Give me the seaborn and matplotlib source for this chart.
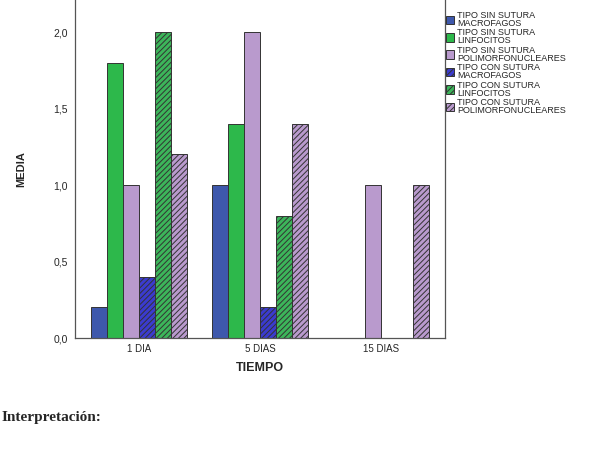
import matplotlib
matplotlib.use('agg')
import matplotlib.pyplot as plt
import seaborn as sns
import numpy as np
import pandas as pd

TIEMPO = ['1 DIA', '5 DIAS', '15 DIAS']
GRUPOS = ['TIPO SIN SUTURA\nMACROFAGOS',
          'TIPO SIN SUTURA\nLINFOCITOS',
          'TIPO SIN SUTURA\nPOLIMORFONUCLEARES',
          'TIPO CON SUTURA\nMACROFAGOS',
          'TIPO CON SUTURA\nLINFOCITOS',
          'TIPO CON SUTURA\nPOLIMORFONUCLEARES']

sin_macro = [0.2, 1.0, np.nan]
sin_linf = [1.8, 1.4, np.nan]
sin_poli = [1.0, 2.0, 1.0]
con_macro = [0.4, 0.2, np.nan]
con_linf = [2.0, 0.8, np.nan]
con_poli = [1.2, 1.4, 1.0]

Y_TICKS = [0, 0.5, 1.0, 1.5, 2.0]
Y_LABELS = ['0,0', '0,5', '1,0', '1,5', '2,0']

COLORS = ['#3E58AC', '#2DB84B', '#B99ACD', '#3B3BCF', '#3CB55A', '#B99ACD']
HATCHED = [False, False, False, True, True, True]


rows = []
for g, vals in zip(GRUPOS, [sin_macro, sin_linf, sin_poli, con_macro, con_linf, con_poli]):
    for t, v in zip(TIEMPO, vals):
        rows.append({'TIEMPO': t, 'GRUPO': g, 'MEDIA': v})
df = pd.DataFrame(rows)

sns.set_style('white')
plt.rcParams['font.family'] = ['Liberation Sans', 'DejaVu Sans']
plt.rcParams['hatch.linewidth'] = 0.7

fig = plt.figure(figsize=[5.96, 4.5], dpi=100)
ax = fig.add_axes([75 / 596, 1 - 338 / 450, 370 / 596, 338 / 450])

sns.barplot(data=df, x='TIEMPO', y='MEDIA', hue='GRUPO', order=TIEMPO,
            hue_order=GRUPOS, palette=COLORS, saturation=1, width=0.8,
            edgecolor='#333333', linewidth=0.7, errorbar=None, legend=False, ax=ax)

for cont, h in zip(ax.containers, HATCHED):
    for p in cont:
        if h:
            p.set_hatch('//////')

ax.set_xlim(-0.53, 2.53)
ax.set_ylim(0, 2.21)
ax.set_yticks(Y_TICKS)
ax.set_yticklabels(Y_LABELS, fontsize=7.5)
ax.set_xticks(range(len(TIEMPO)))
ax.set_xticklabels(TIEMPO, fontsize=7)
ax.tick_params(axis='y', direction='out', length=3, width=0.6, color='#444444', pad=2)
ax.tick_params(axis='x', direction='in', length=6, width=0.8, color='#333333', pad=4)

for s in ['left', 'bottom', 'right']:
    ax.spines[s].set_color('#555555')
    ax.spines[s].set_linewidth(0.9)
ax.spines['top'].set_visible(False)

ax.set_xlabel('TIEMPO', fontsize=9, fontweight='bold', labelpad=6)
ax.set_ylabel('MEDIA', fontsize=8, fontweight='bold', labelpad=20)

handles = []
for c, h in zip(COLORS, HATCHED):
    handles.append(matplotlib.patches.Patch(facecolor=c, edgecolor='#333333',
                                            linewidth=0.7, hatch='//////' if h else None))
leg = fig.legend(handles, GRUPOS, loc='upper left', bbox_to_anchor=(446 / 596, 1 - 11 / 450),
                 frameon=False, fontsize=6.5, handlelength=0.9, handleheight=1.1,
                 handletextpad=0.3, labelspacing=0.05, borderpad=0, borderaxespad=0)
for t in leg.get_texts():
    t.set_linespacing(0.85)

fig.text(0.002, 1 - 418 / 450, 'Interpretación:', fontsize=11, fontweight='bold',
         family=['Liberation Serif', 'DejaVu Serif'], va='center', ha='left')

fig.savefig('out.png', dpi=100)
